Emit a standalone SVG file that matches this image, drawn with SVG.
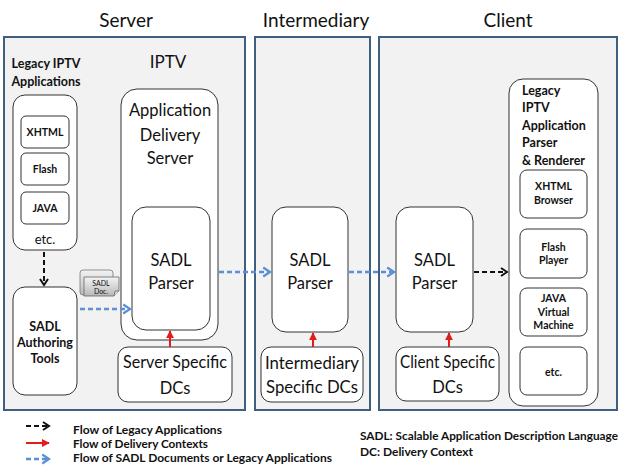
<svg xmlns="http://www.w3.org/2000/svg" width="626" height="471" viewBox="0 0 626 471">
<style>
text{font-family:Lato,"Noto Sans","Liberation Sans",sans-serif;fill:#111;}
.title{font-size:19px;text-anchor:middle;}
.panel{fill:#f2f2f2;stroke:#3f5f7f;stroke-width:2;}
.box{fill:#fff;stroke:#333;stroke-width:1;}
.big{font-size:16.5px;text-anchor:middle;}
.bold{font-size:12.5px;font-weight:bold;text-anchor:middle;}
.small{font-size:10.5px;font-weight:bold;text-anchor:middle;}
.lbold{font-size:12.5px;font-weight:bold;}
.leg{font-size:11.5px;font-weight:bold;}
.blk{stroke:#111;stroke-width:2;stroke-dasharray:5,3;fill:none;}
.blu{stroke:#5b8fd6;stroke-width:2.5;stroke-dasharray:5,3;fill:none;}
.red{stroke:#e21b1b;stroke-width:2;fill:none;}
</style>
<defs>
<marker id="mBlk" viewBox="0 0 10 10" refX="8" refY="5" markerWidth="5" markerHeight="5" markerUnits="strokeWidth" orient="auto">
<path d="M2,1 L8,5 L2,9" fill="none" stroke="#111" stroke-width="2"/>
</marker>
<marker id="mBlu" viewBox="0 0 10 10" refX="8" refY="5" markerWidth="4.5" markerHeight="4.5" markerUnits="strokeWidth" orient="auto">
<path d="M2,1 L8,5 L2,9" fill="none" stroke="#5b8fd6" stroke-width="2"/>
</marker>
<marker id="mRed" viewBox="0 0 10 10" refX="9" refY="5" markerWidth="4" markerHeight="4" markerUnits="strokeWidth" orient="auto">
<path d="M0,0 L10,5 L0,10 Z" fill="#e21b1b"/>
</marker>
<linearGradient id="doc" x1="0" y1="0" x2="0" y2="1">
<stop offset="0" stop-color="#f4f4f4"/>
<stop offset="1" stop-color="#b8b8b8"/>
</linearGradient>
</defs>

<g id="titles">
<text class="title" x="126" y="27">Server</text>
<text class="title" x="316" y="27">Intermediary</text>
<text class="title" x="508" y="27">Client</text>
</g>

<g id="server-panel"><rect class="panel" x="4" y="37" width="241" height="373"/></g>
<g id="intermediary-panel"><rect class="panel" x="255" y="37" width="115" height="373"/></g>
<g id="client-panel"><rect class="panel" x="379" y="37" width="238" height="373"/></g>

<g id="legacy-apps">
<text class="bold" x="46" y="68">Legacy IPTV</text>
<text class="bold" x="46" y="86">Applications</text>
<rect class="box" x="13" y="95" width="64" height="155" rx="12"/>
<text x="45" y="244" style="font-size:13px;text-anchor:middle">etc.</text>
</g>
<g id="xhtml"><rect class="box" x="21" y="116" width="48" height="32" rx="5"/><text class="small" x="45" y="136">XHTML</text></g>
<g id="flash"><rect class="box" x="21" y="153" width="48" height="32" rx="5"/><text class="small" x="45" y="173">Flash</text></g>
<g id="java"><rect class="box" x="21" y="192" width="48" height="32" rx="5"/><text class="small" x="45" y="212">JAVA</text></g>

<g id="authoring">
<rect class="box" x="13" y="287" width="64" height="108" rx="12"/>
<text class="bold" x="45" y="331">SADL</text>
<text class="bold" x="45" y="347">Authoring</text>
<text class="bold" x="45" y="363">Tools</text>
</g>

<g id="sadl-doc">
<rect x="80" y="270" width="33" height="25" rx="3" fill="url(#doc)" stroke="#777" stroke-width="0.8"/>
<path d="M84,277 H119 V291 L114,296 H84 Z" fill="url(#doc)" stroke="#666" stroke-width="0.8"/>
<path d="M114,296 L115,291 L119,291" fill="#ddd" stroke="#666" stroke-width="0.8"/>
<text x="101" y="285.5" style="font-size:7px;text-anchor:middle">SADL</text>
<text x="101" y="294" style="font-size:7px;text-anchor:middle">Doc.</text>
</g>

<g id="iptv-ads">
<text x="168" y="68" style="font-size:17px;text-anchor:middle">IPTV</text>
<rect class="box" x="121" y="89" width="97" height="251" rx="16"/>
<text class="big" x="170" y="116">Application</text>
<text class="big" x="170" y="141">Delivery</text>
<text class="big" x="170" y="164">Server</text>
</g>
<g id="server-parser">
<rect class="box" x="132" y="207" width="78" height="123" rx="14"/>
<text class="big" x="171" y="266">SADL</text>
<text class="big" x="171" y="289">Parser</text>
</g>
<g id="server-dcs">
<rect class="box" x="118" y="347" width="114" height="55" rx="10"/>
<text class="big" x="175" y="368" textLength="104" lengthAdjust="spacingAndGlyphs">Server Specific</text>
<text class="big" x="175" y="394">DCs</text>
</g>

<g id="inter-parser">
<rect class="box" x="272" y="207" width="76" height="125" rx="14"/>
<text class="big" x="310" y="266">SADL</text>
<text class="big" x="310" y="289">Parser</text>
</g>
<g id="inter-dcs">
<rect class="box" x="261" y="347" width="102" height="55" rx="10"/>
<text class="big" x="312" y="369" textLength="94" lengthAdjust="spacingAndGlyphs">Intermediary</text>
<text class="big" x="312" y="393" textLength="92" lengthAdjust="spacingAndGlyphs">Specific DCs</text>
</g>

<g id="client-parser">
<rect class="box" x="396" y="207" width="77" height="125" rx="14"/>
<text class="big" x="434.5" y="266">SADL</text>
<text class="big" x="434.5" y="289">Parser</text>
</g>
<g id="client-dcs">
<rect class="box" x="396" y="347" width="103" height="54" rx="10"/>
<text class="big" x="447.5" y="368" textLength="95" lengthAdjust="spacingAndGlyphs">Client Specific</text>
<text class="big" x="447.5" y="393">DCs</text>
</g>

<g id="renderer">
<rect class="box" x="509" y="79" width="89" height="327" rx="14"/>
<text class="lbold" x="522" y="95">Legacy</text>
<text class="lbold" x="522" y="112">IPTV</text>
<text class="lbold" x="522" y="130">Application</text>
<text class="lbold" x="522" y="147">Parser</text>
<text class="lbold" x="522" y="165">&amp; Renderer</text>
</g>
<g id="xhtml-browser"><rect class="box" x="520" y="170" width="67" height="48" rx="7"/><text class="small" x="553.5" y="190">XHTML</text><text class="small" x="553.5" y="204">Browser</text></g>
<g id="flash-player"><rect class="box" x="520" y="229" width="67" height="49" rx="7"/><text class="small" x="553.5" y="251">Flash</text><text class="small" x="553.5" y="264">Player</text></g>
<g id="jvm"><rect class="box" x="520" y="288" width="67" height="48" rx="7"/><text class="small" x="553.5" y="302">JAVA</text><text class="small" x="553.5" y="316">Virtual</text><text class="small" x="553.5" y="329">Machine</text></g>
<g id="etc"><rect class="box" x="520" y="347" width="67" height="48" rx="7"/><text class="small" x="553.5" y="376">etc.</text></g>

<g id="connectors">
<line class="blk" x1="44" y1="252" x2="44" y2="285" marker-end="url(#mBlk)"/>
<line class="blu" x1="80" y1="309" x2="130" y2="309" marker-end="url(#mBlu)"/>
<line class="blu" x1="219" y1="272" x2="270" y2="272" marker-end="url(#mBlu)"/>
<line class="blu" x1="349" y1="272" x2="394" y2="272" marker-end="url(#mBlu)"/>
<line class="blk" x1="474" y1="272" x2="507" y2="272" marker-end="url(#mBlk)"/>
<line class="red" x1="170" y1="347" x2="170" y2="331" marker-end="url(#mRed)"/>
<line class="red" x1="313" y1="347" x2="313" y2="333" marker-end="url(#mRed)"/>
<line class="red" x1="449" y1="347" x2="449" y2="333" marker-end="url(#mRed)"/>
</g>

<g id="legend">
<line class="blk" x1="26" y1="426" x2="49" y2="426" marker-end="url(#mBlk)"/>
<line class="red" x1="26" y1="443" x2="49" y2="443" marker-end="url(#mRed)"/>
<line class="blu" x1="26" y1="459" x2="49" y2="459" marker-end="url(#mBlu)"/>
<text class="leg" x="73" y="434" textLength="149" lengthAdjust="spacingAndGlyphs">Flow of Legacy Applications</text>
<text class="leg" x="73" y="448" textLength="135" lengthAdjust="spacingAndGlyphs">Flow of Delivery Contexts</text>
<text class="leg" x="73" y="462" textLength="259" lengthAdjust="spacingAndGlyphs">Flow of SADL Documents or Legacy Applications</text>
<text class="leg" x="360" y="440" textLength="258" lengthAdjust="spacingAndGlyphs">SADL: Scalable Application Description Language</text>
<text class="leg" x="360" y="456" textLength="113" lengthAdjust="spacingAndGlyphs">DC: Delivery Context</text>
</g>
</svg>
